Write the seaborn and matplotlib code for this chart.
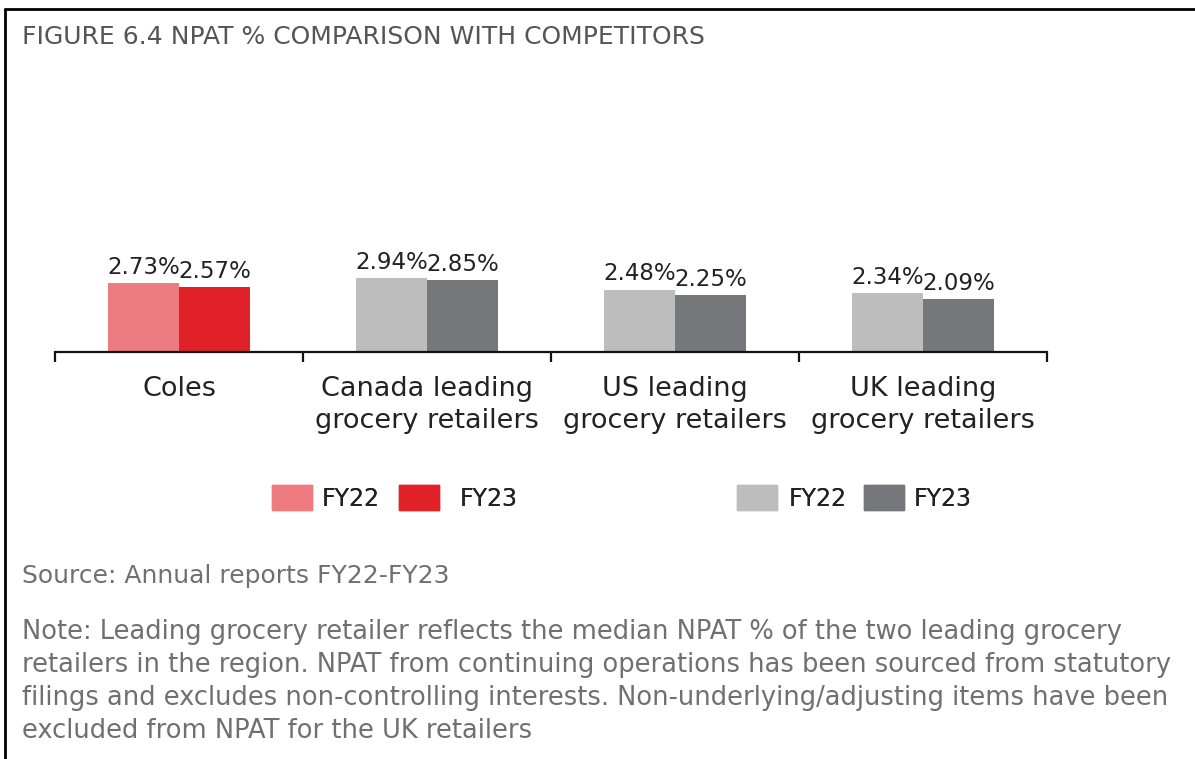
import numpy as np
import pandas as pd
import matplotlib
matplotlib.use("Agg")
import matplotlib.pyplot as plt
import seaborn as sns
from matplotlib.patches import Patch
from matplotlib.lines import Line2D

# data
categories = ["Coles", "Canada leading\ngrocery retailers",
              "US leading\ngrocery retailers", "UK leading\ngrocery retailers"]
years = ["FY22", "FY23"]
fy22 = [2.73, 2.94, 2.48, 2.34]
fy23 = [2.57, 2.85, 2.25, 2.09]

title = "FIGURE 6.4 NPAT % COMPARISON WITH COMPETITORS"
source = "Source: Annual reports FY22-FY23"
note = ("Note: Leading grocery retailer reflects the median NPAT % of the two leading grocery\n"
        "retailers in the region. NPAT from continuing operations has been sourced from statutory\n"
        "filings and excludes non-controlling interests. Non-underlying/adjusting items have been\n"
        "excluded from NPAT for the UK retailers")

RED = ["#EE7B80", "#E02228"]
GREY = ["#BCBDBC", "#76777A"]

df = pd.DataFrame({
    "category": categories * 2,
    "year": [years[0]] * 4 + [years[1]] * 4,
    "npat": fy22 + fy23,
})

sns.set_theme(style="white")
plt.rcParams["font.family"] = ["DejaVu Sans"]

W, H = 1195, 759
fig = plt.figure(figsize=(W / 100, H / 100), dpi=100)

def px(x0, y0, x1, y1):
    return [x0 / W, 1 - y1 / H, (x1 - x0) / W, (y1 - y0) / H]

ax = fig.add_axes(px(55, 100, 1047, 352))
sns.barplot(data=df, x="category", y="npat", hue="year", order=categories,
            hue_order=years, width=0.57, palette=GREY, saturation=1,
            legend=False, ax=ax)

# Coles bars get the red pair
for i, cont in enumerate(ax.containers):
    cont.patches[0].set_facecolor(RED[i])
    for p in cont.patches:
        p.set_edgecolor("none")
    ax.bar_label(cont, labels=[f"{v:.2f}%" for v in cont.datavalues],
                 padding=3, fontsize=16.5, color="#222222")

ax.set_xlim(-0.5, 3.5)
ax.set_ylim(0, 252 / 25.2)
ax.set_xlabel("")
ax.set_ylabel("")
ax.set_yticks([])
for s in ["top", "right", "left"]:
    ax.spines[s].set_visible(False)
ax.spines["bottom"].set_color("#111111")
ax.spines["bottom"].set_linewidth(1.6)

ax.set_xticks(np.arange(-0.5, 4, 1))
ax.set_xticklabels([])
ax.tick_params(axis="x", which="major", direction="out", length=7,
               width=1.6, color="#111111", bottom=True)
ax.set_xticks(range(4), categories, minor=True)
ax.tick_params(axis="x", which="minor", length=0, pad=17.5,
               labelsize=19.5, labelcolor="#222222")
for t in ax.get_xticklabels(minor=True):
    t.set_linespacing(1.28)

# legend entries placed one by one (Coles red pair, peers grey pair)
entries = [(RED[0], years[0], 272, 0.42), (RED[1], years[1], 399, 0.85),
           (GREY[0], years[0], 737, 0.5), (GREY[1], years[1], 864, 0.42)]
for col, lab, x0, tpad in entries:
    leg = fig.legend([Patch(color=col)], [lab], frameon=False, fontsize=17,
                     handlelength=1.7, handleheight=1.25, handletextpad=tpad,
                     borderaxespad=0, borderpad=0, labelcolor="#222222",
                     loc="center left", bbox_to_anchor=(x0 / W, 1 - 498 / H))
    fig.add_artist(leg)

fig.text(22 / W, 1 - 44 / H, title, fontsize=18, color="#555555",
         va="baseline", ha="left")
fig.text(22 / W, 1 - 583 / H, source, fontsize=18, color="#707070",
         va="baseline", ha="left")
fig.text(22 / W, 1 - 619 / H, note, fontsize=18.5, color="#707070",
         va="top", ha="left", linespacing=1.35)

# frame lines at top and left
fig.add_artist(Line2D([5 / W, 1], [1 - 9 / H, 1 - 9 / H], color="black", lw=2))
fig.add_artist(Line2D([5 / W, 5 / W], [1 - 9 / H, 0], color="black", lw=2))

fig.savefig("out.png", dpi=100)
